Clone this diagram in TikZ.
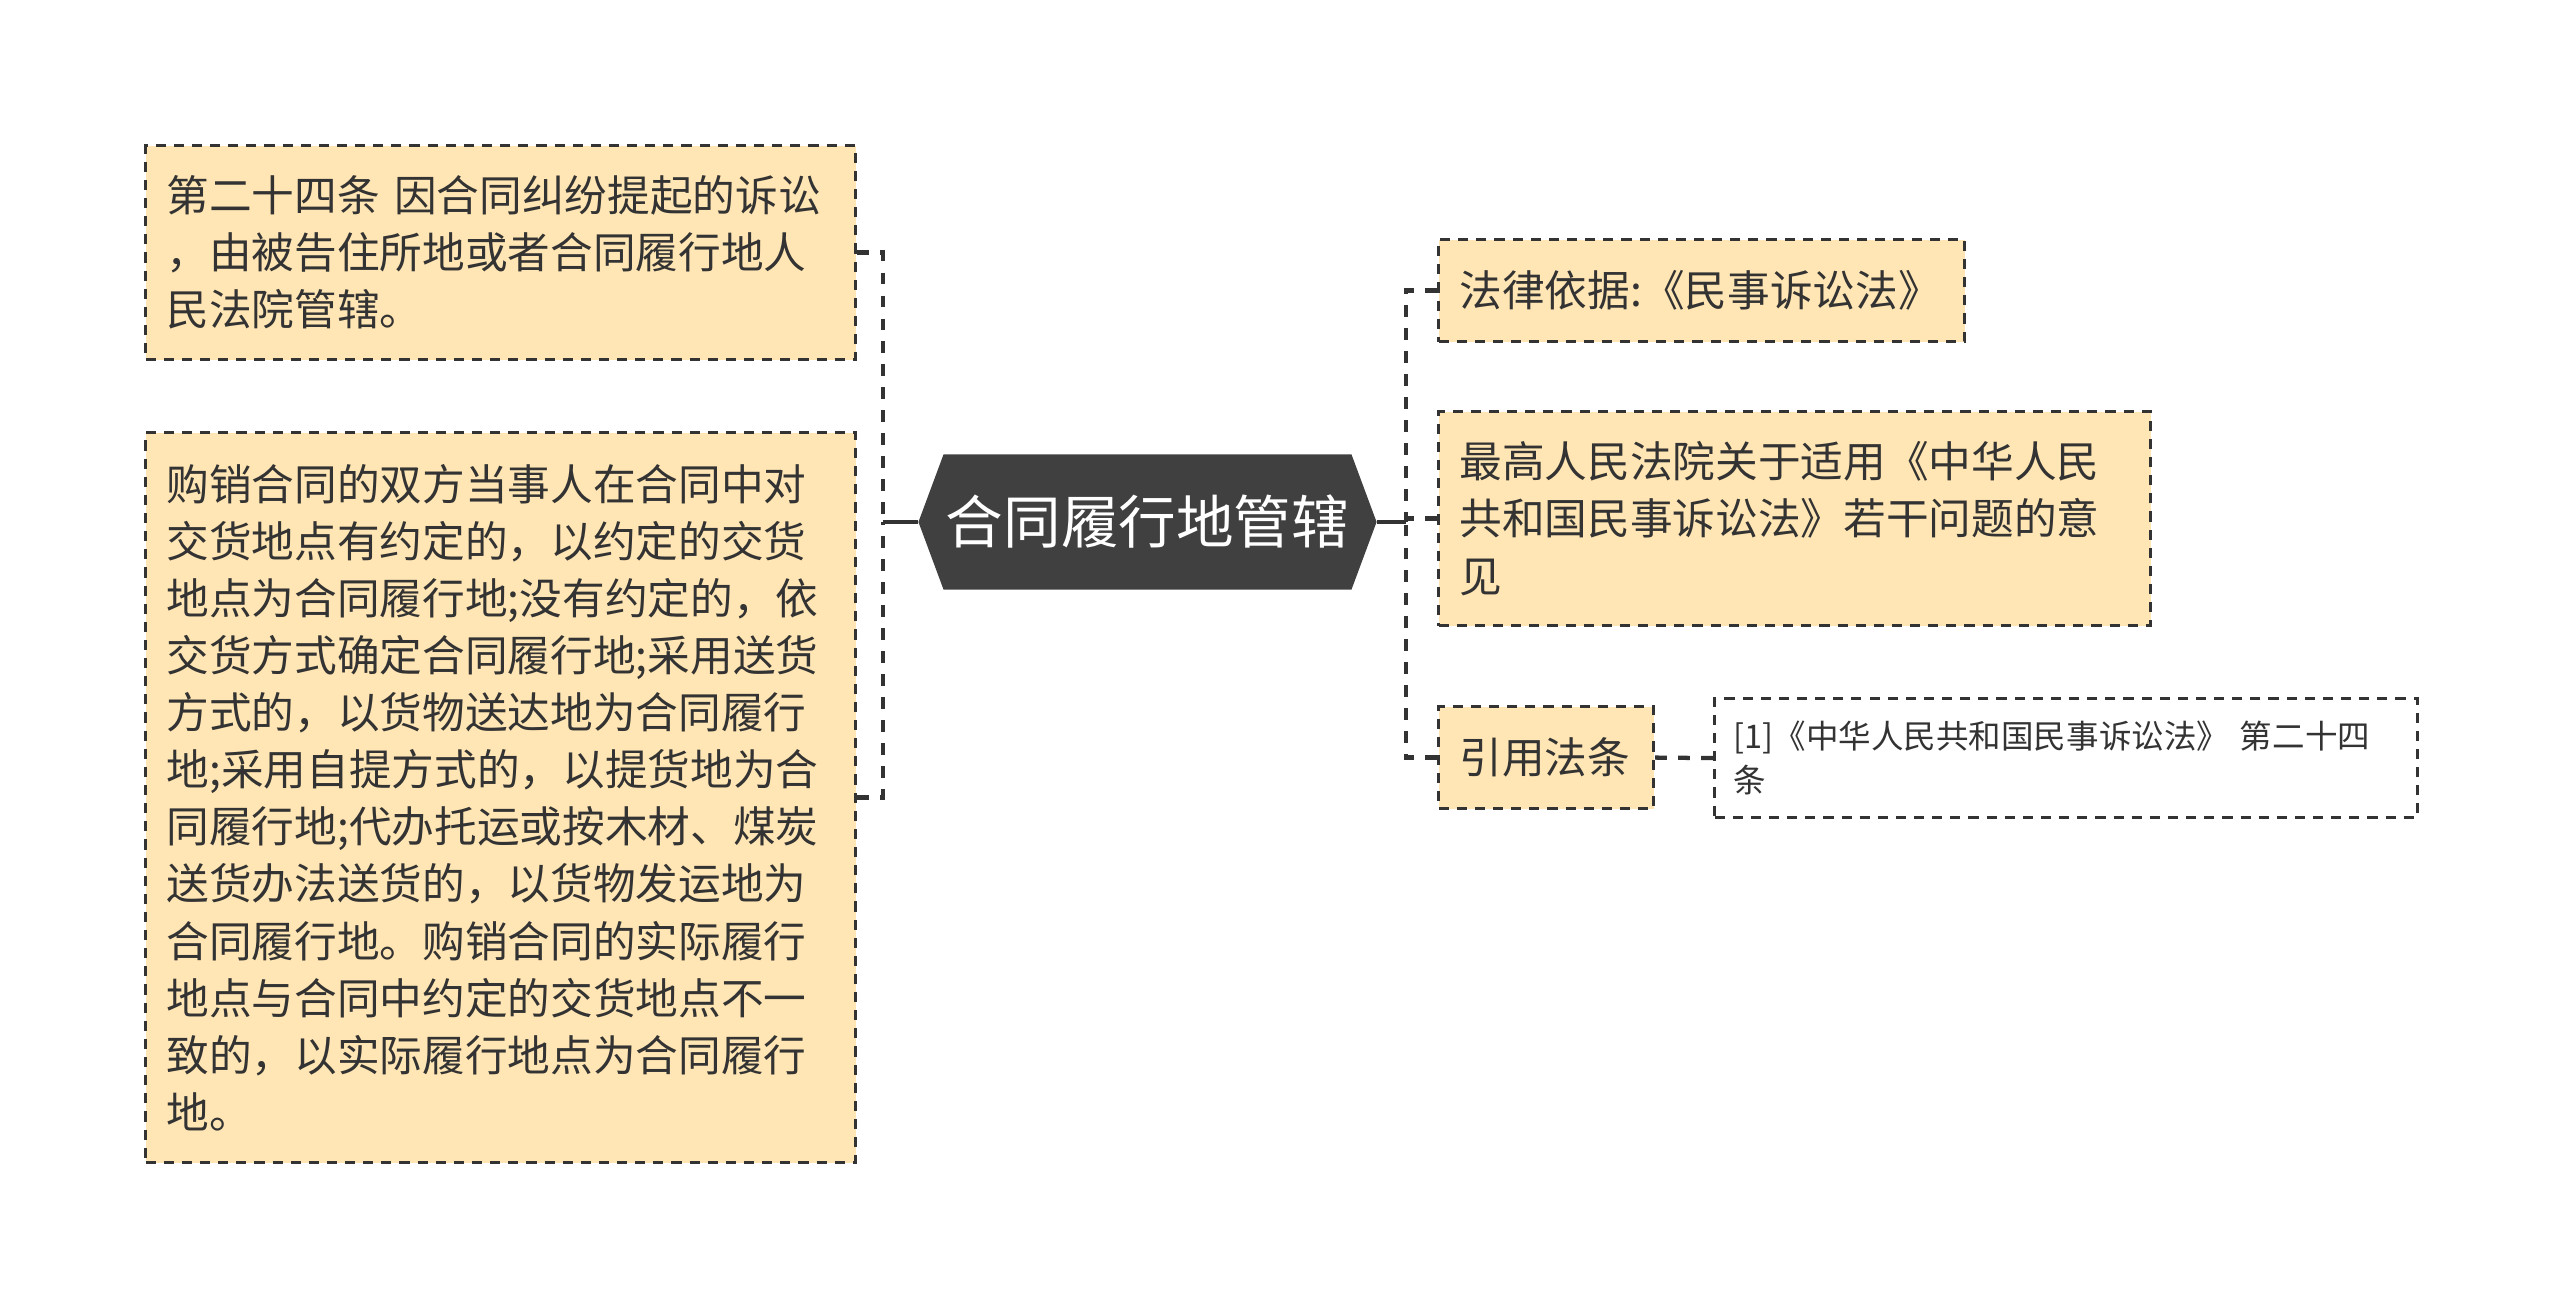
\documentclass[tikz,border=0pt]{standalone}
\usepackage{fontspec}
\setmainfont{Noto Sans CJK SC}
\usetikzlibrary{backgrounds}
\definecolor{boxfill}{HTML}{FFE6B4}
\definecolor{txt}{HTML}{333333}
\definecolor{hexfill}{HTML}{404040}
\definecolor{linec}{HTML}{333333}
\begin{document}
\begin{tikzpicture}[x=0.375pt,y=-0.375pt,
  topic/.style={draw=txt, line width=1.2pt, dash pattern=on 3.8pt off 3pt,
    fill=boxfill, text=txt, anchor=north west, inner xsep=7.875pt, inner ysep=0pt,
    align=left, font=\fontsize{16pt}{21.4pt}\selectfont},
  leafbox/.style={draw=txt, line width=1.2pt, dash pattern=on 3.8pt off 3pt,
    fill=white, text=txt, anchor=north west, inner xsep=7.125pt, inner ysep=0pt,
    align=left, font=\fontsize{12.2pt}{16.5pt}\selectfont},
  conn/.style={draw=linec, line width=1.6pt, dash pattern=on 4.4pt off 4.2pt},
  solidconn/.style={draw=linec, line width=1.6pt}]
\useasboundingbox (0,0) rectangle (2560,1304);

% centre
\node[minimum width=171.4pt, minimum height=50.25pt, inner sep=0pt, text=white,
  font=\fontsize{21.6pt}{25pt}\selectfont] (c) at (1147.5,522) {合同履行地管辖};
\begin{scope}[on background layer]
\fill[hexfill] (c.west) -- ([xshift=9.4pt]c.north west) -- ([xshift=-9.4pt]c.north east)
  -- (c.east) -- ([xshift=-9.4pt]c.south east) -- ([xshift=9.4pt]c.south west) -- cycle;
\end{scope}

% left
\node[topic, minimum width=266.25pt, minimum height=80.25pt, text width=250.5pt] (L1) at (144,144)
 {第二十四条~因合同纠纷提起的诉讼\\，由被告住所地或者合同履行地人\\民法院管辖。};
\node[topic, minimum width=266.25pt, minimum height=273.75pt, text width=250.5pt] (L2) at (144,431)
 {购销合同的双方当事人在合同中对\\交货地点有约定的，以约定的交货\\地点为合同履行地;没有约定的，依\\交货方式确定合同履行地;采用送货\\方式的，以货物送达地为合同履行\\地;采用自提方式的，以提货地为合\\同履行地;代办托运或按木材、煤炭\\送货办法送货的，以货物发运地为\\合同履行地。购销合同的实际履行\\地点与合同中约定的交货地点不一\\致的，以实际履行地点为合同履行\\地。};

% right
\node[topic, minimum width=197.25pt, minimum height=38.25pt, text width=181.5pt] (R1) at (1437,238)
 {法律依据:《民事诉讼法》};
\node[topic, minimum width=267pt, minimum height=80.25pt, text width=251.25pt] (R2) at (1437,410)
 {最高人民法院关于适用《中华人民\\共和国民事诉讼法》若干问题的意\\见};
\node[topic, minimum width=80.625pt, minimum height=38.25pt, text width=64.875pt] (R3) at (1437,705)
 {引用法条};
\node[leafbox, minimum width=263.625pt, minimum height=44.625pt, text width=249.375pt] (leaf) at (1713,697)
 {[1]《中华人民共和国民事诉讼法》~第二十四\\条};

% connectors
\coordinate (lj) at (883,522);
\coordinate (rj) at (1406,522);
\draw[conn] (L1.east) -| (lj);
\draw[conn] (L2.east) -| (lj);
\draw[solidconn] (c.west) -- (lj);
\draw[conn] (R1.west) -| (rj);
\draw[conn] (R2.west) -| (rj);
\draw[conn] (R3.west) -| (rj);
\draw[solidconn] (c.east) -- (rj);
\draw[conn] (R3.east) -- (leaf.west);
\end{tikzpicture}
\end{document}
